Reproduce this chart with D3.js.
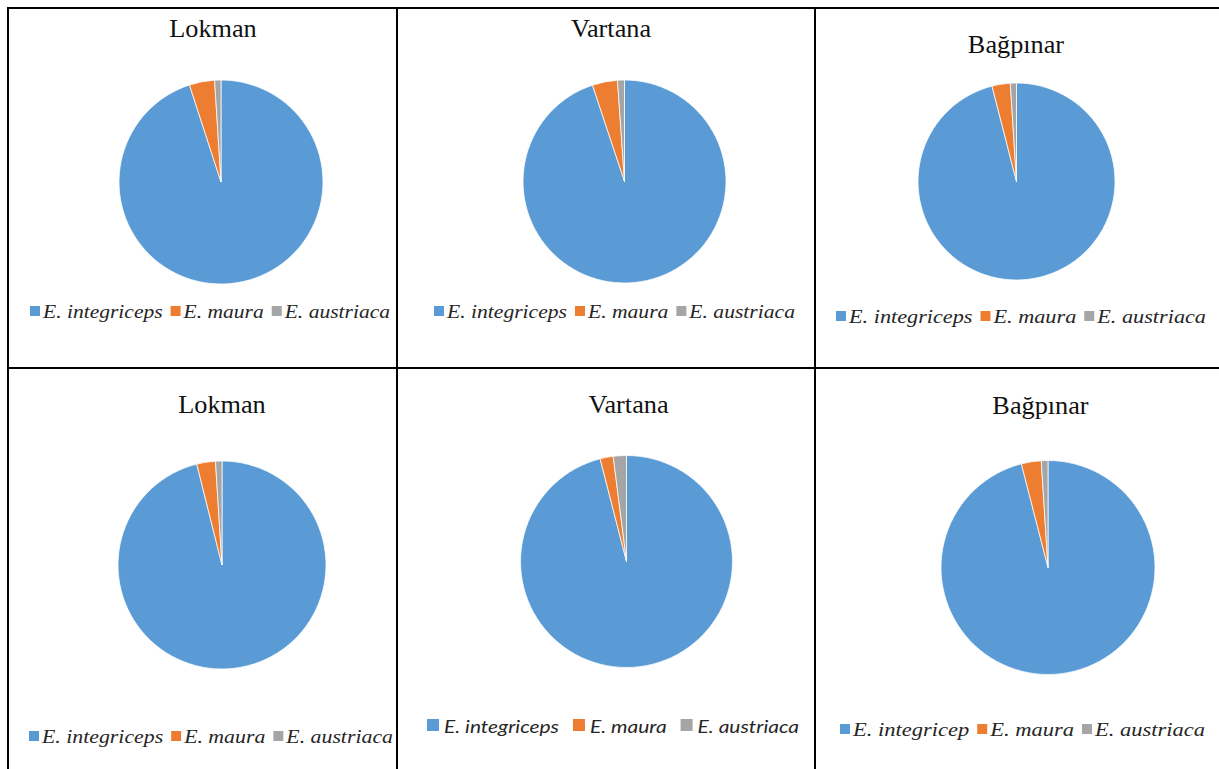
<!DOCTYPE html>
<html>
<head>
<meta charset="utf-8">
<script src="https://cdn.jsdelivr.net/npm/d3@7"></script>
<style>
    body { margin: 0; background: #fff; }
    svg { display: block; }
</style>
</head>
<body>
<svg id="chart"></svg>
<script>
// site names (one per panel, top row then bottom row)
const sites = ["Lokman", "Vartana", "Bağpınar", "Lokman", "Vartana", "Bağpınar"];
const species = ["E. integriceps", "E. maura", "E. austriaca"];
// the last panel has a typo in the original legend
const legendNames = [species, species, species, species, species,
    ["E. integricep", "E. maura", "E. austriaca"]];

// percentages per species
const integriceps = [95, 94.9, 96, 96.1, 96, 96];
const maura = [4, 4, 3, 2.9, 2, 3];
const austriaca = [1, 1.1, 1, 1, 2, 1];

const colors = ["#5B9BD5", "#ED7D31", "#A5A5A5"];

// canvas
const canvWidth = 1219;
const canvHeight = 769;

// layout of each cell: pie centre / radius, title, legend span
const layout = [
    { cx: 221, cy: 182, r: 102, tx: 213, ty: 37, lx0: 30, lx1: 390, ly: 318, font: "serif" },
    { cx: 624.5, cy: 181.5, r: 101.5, tx: 611, ty: 37, lx0: 434, lx1: 795, ly: 318, font: "serif" },
    { cx: 1016.5, cy: 181.5, r: 98.5, tx: 1016, ty: 53, lx0: 836, lx1: 1206, ly: 323, font: "serif" },
    { cx: 222, cy: 565, r: 104, tx: 222, ty: 413, lx0: 29, lx1: 393, ly: 743, font: "serif" },
    { cx: 626.5, cy: 561.5, r: 106, tx: 628.5, ty: 413, lx0: 427, lx1: 799, ly: 733, font: "sans" },
    { cx: 1048, cy: 567.5, r: 107, tx: 1040.5, ty: 414, lx0: 840, lx1: 1205, ly: 736, font: "serif" }
];

const svg = d3.select("#chart")
    .attr("width", canvWidth)
    .attr("height", canvHeight);

// table grid lines
const grid = svg.append("g")
    .attr("stroke", "#000")
    .attr("stroke-width", 2);
grid.append("line").attr("x1", 7).attr("x2", canvWidth).attr("y1", 8).attr("y2", 8);
grid.append("line").attr("x1", 7).attr("x2", canvWidth).attr("y1", 368).attr("y2", 368);
[8, 397, 815].forEach(function (x) {
    grid.append("line").attr("x1", x).attr("x2", x).attr("y1", 7).attr("y2", canvHeight);
});

// pie generator, starts at 12 o'clock and goes clockwise like excel
const pie = d3.pie()
    .sort(null)
    .value(function (d) {
        return d.value;
    });

sites.forEach(function (site, i) {
    const data = [
        { name: legendNames[i][0], value: integriceps[i], color: colors[0] },
        { name: legendNames[i][1], value: maura[i], color: colors[1] },
        { name: legendNames[i][2], value: austriaca[i], color: colors[2] }
    ];
    draw_panel(site, data, layout[i]);
});

/*
draw one pie with title and legend
*/
function draw_panel(title, data, L) {
    const g = svg.append("g");

    const arc = d3.arc()
        .innerRadius(0)
        .outerRadius(L.r);

    // slices
    g.append("g")
        .attr("transform", "translate(" + L.cx + "," + L.cy + ")")
        .selectAll("path")
        .data(pie(data))
        .enter()
        .append("path")
        .attr("d", arc)
        .attr("fill", function (d) {
            return d.data.color;
        })
        .attr("stroke", "#fff")
        .attr("stroke-width", 0.75);

    // title
    const t = g.append("text")
        .attr("x", L.tx)
        .attr("y", L.ty)
        .attr("text-anchor", "middle")
        .attr("font-family", "'Liberation Serif', 'Times New Roman', serif")
        .attr("font-size", 25)
        .attr("fill", "#111")
        .text(title);
    t.attr("textLength", t.node().getComputedTextLength() * 1.05)
        .attr("lengthAdjust", "spacingAndGlyphs");

    // legend
    const sans = L.font === "sans";
    const sq = sans ? 12 : 10;
    const sqGap = sans ? 5 : 3;
    const itemGap = sans ? 14 : 8;
    const fontSize = sans ? 18 : 19.5;

    const lg = g.append("g");
    const items = lg.selectAll("g")
        .data(data)
        .enter()
        .append("g");

    items.append("rect")
        .attr("width", sq)
        .attr("height", sq)
        .attr("y", L.ly - sq - 2)
        .attr("fill", function (d) {
            return d.color;
        });

    const labels = items.append("text")
        .attr("y", L.ly)
        .attr("font-family", sans ? "Lato, 'Open Sans', sans-serif" : "'Liberation Serif', 'Times New Roman', serif")
        .attr("font-style", "italic")
        .attr("font-size", fontSize)
        .attr("fill", "#262626")
        .text(function (d) {
            return d.name;
        });

    // stretch text so the legend fills its span in the picture
    let natural = 0;
    labels.each(function () {
        natural += this.getComputedTextLength();
    });
    const fixed = data.length * (sq + sqGap) + (data.length - 1) * itemGap;
    const stretch = (L.lx1 - L.lx0 - fixed) / natural;

    let x = L.lx0;
    items.each(function () {
        const item = d3.select(this);
        const label = item.select("text");
        const w = label.node().getComputedTextLength() * stretch;
        item.select("rect").attr("x", x);
        label.attr("x", x + sq + sqGap)
            .attr("textLength", w)
            .attr("lengthAdjust", "spacingAndGlyphs");
        x += sq + sqGap + w + itemGap;
    });
}
</script>
</body>
</html>
